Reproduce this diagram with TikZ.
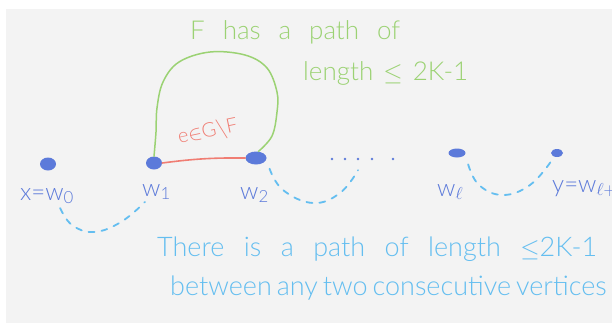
\documentclass[tikz,border=0pt]{standalone}
\usepackage{fontspec}
\setmainfont{Lato Light}
\usetikzlibrary{shapes.geometric,calc}
\definecolor{paper}{RGB}{243,243,243}
\definecolor{dotblue}{RGB}{92,122,218}
\definecolor{skyblue}{RGB}{100,190,240}
\definecolor{hgreen}{RGB}{155,210,115}
\definecolor{hred}{RGB}{240,125,115}
\tikzset{
  vtx/.style={ellipse, fill=dotblue, inner sep=0pt},
  lab/.style={text=dotblue, inner sep=0pt, anchor=base west, font=\fontsize{24}{28}\selectfont},
  bluetext/.style={text=skyblue, inner sep=0pt, anchor=base west, font=\fontsize{27}{32}\selectfont},
  greentext/.style={text=hgreen, inner sep=0pt, anchor=base west, font=\fontsize{26}{30}\selectfont},
  dashline/.style={skyblue, line width=1.8pt, line cap=round, dash pattern=on 6pt off 7pt},
  loopline/.style={hgreen, line width=1.5pt, line cap=round},
  edgeline/.style={hred, line width=1.6pt, line cap=round}
}
\begin{document}
\begin{tikzpicture}[x=1pt,y=-1pt]
\useasboundingbox (0,0) rectangle (612,325);
\fill[white] (0,0) rectangle (612,325);
\fill[paper] (6,9) rectangle (612,323);

% vertices
\node[vtx, minimum width=16pt, minimum height=13pt] (w0) at (48,164) {};
\node[vtx, minimum width=16pt, minimum height=13pt] (w1) at (154,163) {};
\node[vtx, minimum width=21pt, minimum height=13pt] (w2) at (256,158) {};
\node[vtx, minimum width=17pt, minimum height=9pt] (wl) at (457,153) {};
\node[vtx, minimum width=12pt, minimum height=8pt] (yd) at (557,153) {};
\node[minimum width=62pt, minimum height=4pt, inner sep=0pt] (dots) at (362,159) {};
\foreach \px in {332,345,358,372,393} \fill[dotblue] (\px,159) circle (1.3);

% vertex labels
\node[lab] (l0) at (20,200) {x=w\textsubscript{0}};
\node[lab] (l1) at (142,196) {w\textsubscript{1}};
\node[lab] (l2) at (240,199) {w\textsubscript{2}};
\node[lab] (ll) at (437,196) {w$_\ell$};
\node[lab] (ly) at (552,192) {y=w$_{\ell+1}$};

% red edge and its label
\draw[edgeline] (w1.east) to[bend left=4] (w2.west);
\node[text=hred, inner sep=0pt, rotate=12, font=\fontsize{20}{24}\selectfont] (elab) at (208,132) {e$\in$G$\backslash$F};

% green path in F
\draw[loopline] plot[smooth, tension=0.6] coordinates {(w1.north) (156,132) (157,108) (163,82) (179,62) (210,52) (245,55) (267,68) (277,92) (277,112) (272,136) (w2.70)};

% green text
\node[greentext] (g1) at (190,39) {\makebox[210pt][s]{F has a path of}};
\node[greentext] (g2) at (303,80) {\makebox[165pt][s]{length $\le$ 2K-1}};

% blue dashed paths between consecutive vertices
\draw[dashline] plot[smooth, tension=0.7] coordinates {($(l0.south east)+(-14,4)$) (72,225) (94,232) (121,222) ($(l1.south west)+(3,2)$)};
\draw[dashline] plot[smooth, tension=0.7] coordinates {($(w2.south east)+(6,6)$) (283,190) (313,203) (340,193) ($(dots.south)+(-4,9)$)};
\draw[dashline] plot[smooth, tension=0.7] coordinates {($(wl.south east)+(5,8)$) (479,185) (503,195) (530,185) ($(yd.south west)+(-2,6)$)};

% blue text
\node[bluetext] (t1) at (157,256) {\makebox[440pt][s]{There is a path of length $\le$2K-1}};
\node[bluetext] (t2) at (170,295) {\makebox[435pt][s]{between any two consecutive vertices}};
\end{tikzpicture}
\end{document}
